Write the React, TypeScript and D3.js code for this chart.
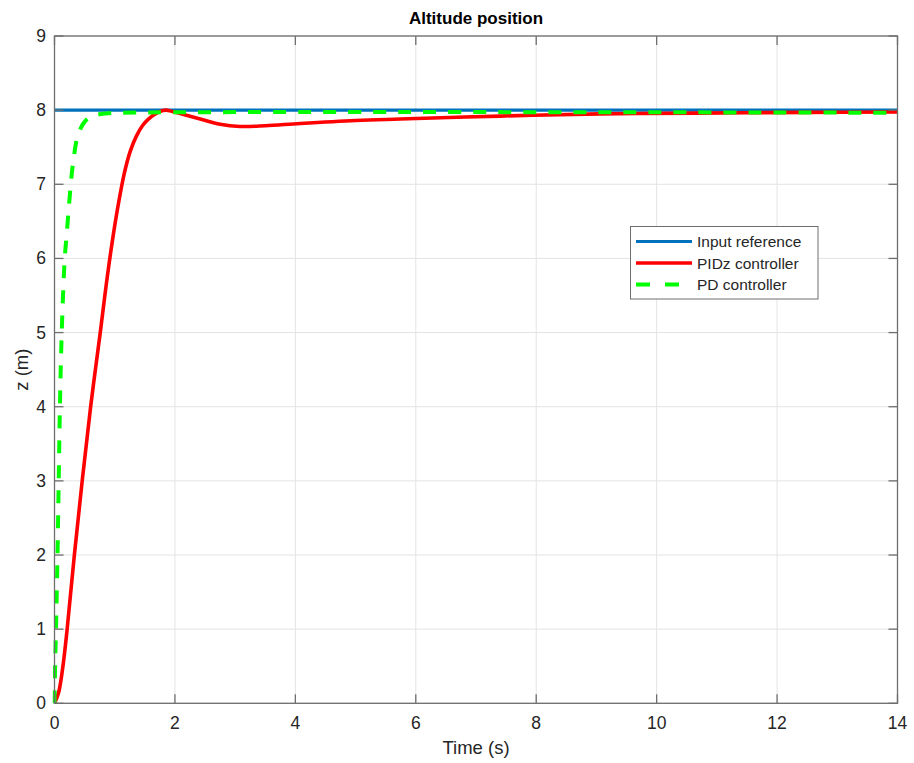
import React from "react";
import * as d3 from "d3";

const xTicks = [0, 2, 4, 6, 8, 10, 12, 14];
const yTicks = [0, 1, 2, 3, 4, 5, 6, 7, 8, 9];

const refT = [0, 14];
const refZ = [8, 8];

const pidT = [0, 0.07, 0.14, 0.21, 0.33, 0.46, 0.6, 0.76, 0.86, 0.96, 1.06, 1.16, 1.26, 1.36, 1.46, 1.56, 1.72, 1.84, 1.97, 2.1, 2.42, 2.75, 3.08, 3.5, 4.08, 5.0, 5.74, 7.4, 9.06, 10.7, 12.5, 14];
const pidZ = [0, 0.15, 0.5, 1.0, 2.0, 3.0, 4.0, 5.0, 5.65, 6.23, 6.73, 7.15, 7.45, 7.65, 7.79, 7.88, 7.97, 8.0, 7.98, 7.95, 7.88, 7.81, 7.78, 7.79, 7.82, 7.86, 7.88, 7.92, 7.95, 7.96, 7.97, 7.975];

const pdT = [0, 0.01, 0.025, 0.05, 0.07, 0.09, 0.12, 0.17, 0.2, 0.26, 0.31, 0.4, 0.53, 0.67, 0.85, 1.1, 14];
const pdZ = [0, 0.5, 1, 2, 3, 4, 5, 6, 6.3, 6.9, 7.3, 7.69, 7.87, 7.93, 7.955, 7.965, 7.965];

const legendLabels = ["Input reference", "PIDz controller", "PD controller"];

const W = 914, H = 763;
const L = 54.5, R = 897.5, T = 36, B = 703.3;

export default function App() {
  const x = d3.scaleLinear().domain([0, 14]).range([L, R]);
  const y = d3.scaleLinear().domain([0, 9]).range([B, T]);
  const line = d3
    .line<[number, number]>()
    .x((d) => x(d[0]))
    .y((d) => y(d[1]))
    .curve(d3.curveCatmullRom.alpha(0.5));
  const zip = (a: number[], b: number[]) => a.map((v, i) => [v, b[i]] as [number, number]);
  const font = "'Liberation Sans', Arial, Helvetica, sans-serif";
  const txt = "#262626";
  const axisCol = "#6e6e6e";
  const series = [
    { d: zip(refT, refZ), color: "#0072BD", w: 3.2, dash: "" },
    { d: zip(pidT, pidZ), color: "#ff0000", w: 3.6, dash: "" },
    { d: zip(pdT, pdZ), color: "#00ff00", w: 4, dash: "13,12" },
  ];
  const lgX = 630.5, lgY = 226.5, lgW = 187.5, lgH = 72.5;
  return (
    <svg width={W} height={H} style={{ position: "absolute", left: 0, top: 0, background: "#fff" }} fontFamily={font}>
      <rect x={0} y={0} width={W} height={H} fill="#fff" />
      {xTicks.map((t) => (
        <line key={"gx" + t} x1={x(t)} x2={x(t)} y1={T} y2={B} stroke="#e3e3e3" strokeWidth={1} />
      ))}
      {yTicks.map((t) => (
        <line key={"gy" + t} x1={L} x2={R} y1={y(t)} y2={y(t)} stroke="#e3e3e3" strokeWidth={1} />
      ))}
      <defs>
        <clipPath id="clip">
          <rect x={L - 2} y={T} width={R - L + 4} height={B - T + 2} />
        </clipPath>
      </defs>
      <g clipPath="url(#clip)">
        {series.map((s, i) => (
          <path key={i} d={line(s.d) || ""} fill="none" stroke={s.color} strokeWidth={s.w} strokeDasharray={s.dash || undefined} />
        ))}
      </g>
      <rect x={L} y={T} width={R - L} height={B - T} fill="none" stroke={axisCol} strokeWidth={1.3} />
      {xTicks.map((t) => (
        <g key={"tx" + t}>
          <line x1={x(t)} x2={x(t)} y1={B} y2={B - 9} stroke={axisCol} strokeWidth={1.3} />
          <line x1={x(t)} x2={x(t)} y1={T} y2={T + 9} stroke={axisCol} strokeWidth={1.3} />
          <text x={x(t)} y={729} textAnchor="middle" fontSize={17.5} fill={txt}>{t}</text>
        </g>
      ))}
      {yTicks.map((t) => (
        <g key={"ty" + t}>
          <line x1={L} x2={L + 9} y1={y(t)} y2={y(t)} stroke={axisCol} strokeWidth={1.3} />
          <line x1={R} x2={R - 9} y1={y(t)} y2={y(t)} stroke={axisCol} strokeWidth={1.3} />
          <text x={46} y={y(t) + 6} textAnchor="end" fontSize={17.5} fill={txt}>{t}</text>
        </g>
      ))}
      <text x={476} y={24} textAnchor="middle" fontSize={17} fontWeight="bold" fill="#000">Altitude position</text>
      <text x={476} y={754} textAnchor="middle" fontSize={18.5} fill={txt}>Time (s)</text>
      <text transform={`translate(28,${y(4.5)}) rotate(-90)`} textAnchor="middle" fontSize={18.5} fill={txt}>z (m)</text>
      <rect x={lgX} y={lgY} width={lgW} height={lgH} fill="#fff" stroke={axisCol} strokeWidth={1} />
      {legendLabels.map((lab, i) => {
        const ly = 241.5 + i * 21.5;
        const s = series[i];
        return (
          <g key={lab}>
            <line x1={636} x2={692} y1={ly} y2={ly} stroke={s.color} strokeWidth={s.w} strokeDasharray={s.dash ? "14,15" : undefined} />
            <text x={697} y={ly + 5.5} fontSize={15.5} fill={txt}>{lab}</text>
          </g>
        );
      })}
    </svg>
  );
}
